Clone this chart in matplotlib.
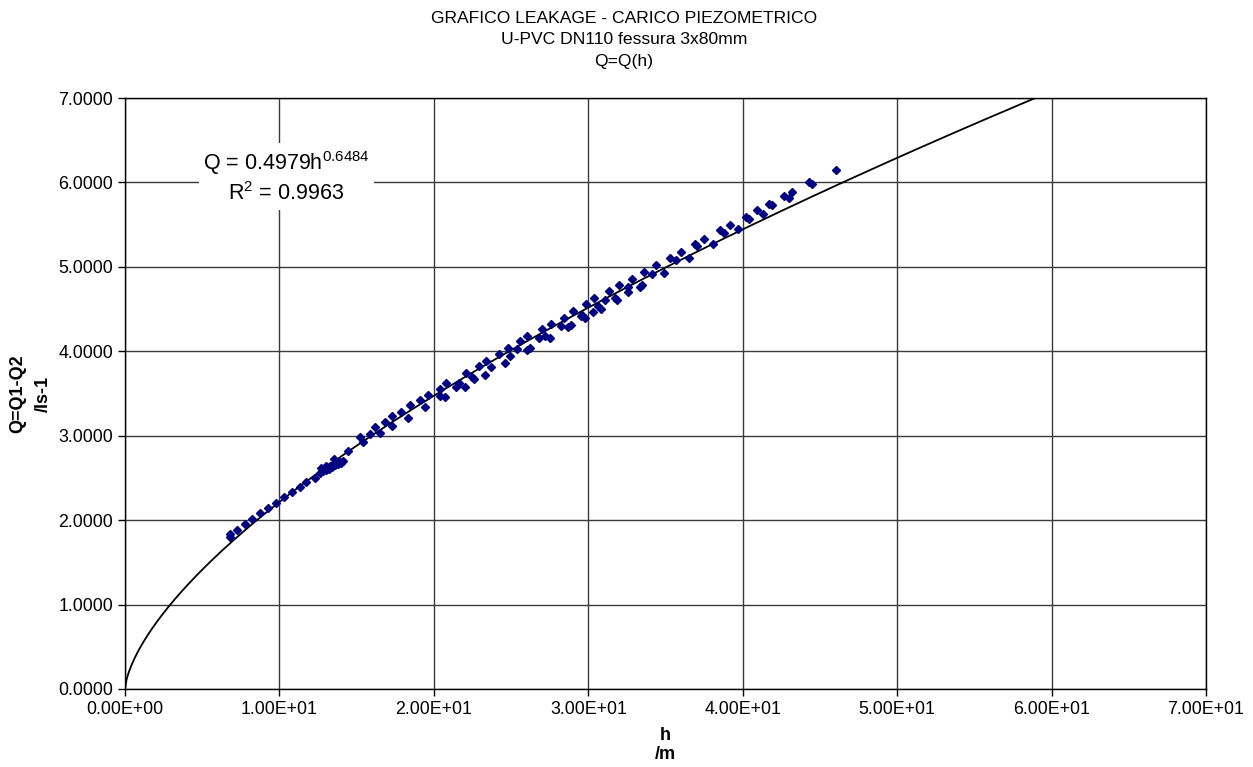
import numpy as np
import matplotlib
matplotlib.use("Agg")
import matplotlib.pyplot as plt
from matplotlib.ticker import FuncFormatter, MultipleLocator

h_vals = [6.80, 6.80, 7.27, 7.77, 8.25, 8.74, 9.28, 9.78, 10.32, 10.80,
          11.33, 11.72, 12.31, 12.6, 12.7, 12.8, 12.9, 13.0, 13.0, 13.1,
          13.2, 13.3, 13.4, 13.5, 13.5, 13.6, 13.7, 13.8, 13.9, 14.0,
          14.1, 14.46, 15.22, 15.44, 15.87, 16.19, 16.50, 16.84, 17.27, 17.31,
          17.90, 18.35, 18.46, 19.10, 19.40, 19.65, 20.40, 20.40, 20.70, 20.80,
          21.40, 21.60, 22.00, 22.10, 22.45, 22.60, 22.95, 23.30, 23.40, 23.70,
          24.20, 24.60, 24.80, 24.90, 25.37, 25.60, 26.00, 26.00, 26.20, 26.80,
          27.00, 27.20, 27.50, 27.60, 28.20, 28.40, 28.70, 28.90, 29.00, 29.50,
          29.60, 29.80, 29.86, 30.30, 30.40, 30.60, 30.80, 31.10, 31.35, 31.70,
          31.85, 32.00, 32.55, 32.60, 32.86, 33.35, 33.46, 33.60, 34.10, 34.40,
          34.90, 35.30, 35.70, 36.00, 36.50, 36.90, 37.07, 37.50, 38.10, 38.50,
          38.80, 39.20, 39.70, 40.20, 40.40, 40.95, 41.30, 41.70, 41.90, 42.70,
          43.00, 43.20, 44.30, 44.50, 46.05]
q_vals = [1.80, 1.83, 1.88, 1.95, 2.01, 2.08, 2.14, 2.20, 2.27, 2.33,
          2.39, 2.45, 2.50, 2.56, 2.62, 2.58, 2.60, 2.59, 2.64, 2.62,
          2.61, 2.64, 2.63, 2.66, 2.73, 2.65, 2.68, 2.67, 2.69, 2.68,
          2.70, 2.82, 2.99, 2.92, 3.02, 3.10, 3.03, 3.16, 3.11, 3.23,
          3.28, 3.21, 3.36, 3.42, 3.34, 3.48, 3.55, 3.47, 3.46, 3.62,
          3.58, 3.62, 3.58, 3.74, 3.69, 3.67, 3.83, 3.72, 3.89, 3.81,
          3.97, 3.86, 4.04, 3.94, 4.03, 4.12, 4.01, 4.18, 4.04, 4.16,
          4.26, 4.18, 4.16, 4.32, 4.30, 4.40, 4.29, 4.31, 4.48, 4.42,
          4.43, 4.40, 4.56, 4.46, 4.63, 4.54, 4.50, 4.61, 4.71, 4.63,
          4.61, 4.78, 4.76, 4.70, 4.86, 4.76, 4.79, 4.94, 4.92, 5.02,
          4.93, 5.11, 5.08, 5.18, 5.10, 5.27, 5.25, 5.33, 5.27, 5.44,
          5.40, 5.50, 5.45, 5.59, 5.57, 5.67, 5.63, 5.74, 5.73, 5.84,
          5.81, 5.89, 6.00, 5.98, 6.15]

# power trendline from the chart label
coef_a = 0.4979
coef_b = 0.6484
r_squared = 0.9963

plt.rcParams["font.family"] = ["Liberation Sans", "DejaVu Sans"]
plt.rcParams["mathtext.default"] = "regular"

fig = plt.figure(figsize=(12.53, 7.67), dpi=100)
ax = fig.add_axes([0.0998, 0.1017, 0.8627, 0.7705])

h_fit = np.linspace(0, 70, 800)
ax.plot(h_fit, coef_a * h_fit ** coef_b, color="black", lw=1.3, zorder=3)
ax.plot(h_vals, q_vals, linestyle="none", marker="D", markersize=3.8,
        color="#000080", zorder=4)

ax.set_xlim(0, 70)
ax.set_ylim(0, 7)
ax.xaxis.set_major_locator(MultipleLocator(10))
ax.yaxis.set_major_locator(MultipleLocator(1))
ax.xaxis.set_major_formatter(FuncFormatter(lambda v, p: f"{v:.2E}"))
ax.yaxis.set_major_formatter(FuncFormatter(lambda v, p: f"{v:.4f}"))
ax.tick_params(labelsize=12.8, length=5, width=1, color="black")
ax.grid(True, color="#3a3a3a", lw=1)
ax.set_axisbelow(True)
for s in ax.spines.values():
    s.set_color("black")
    s.set_linewidth(1)

ax.set_xlabel("h\n/m", fontsize=13, fontweight="bold", linespacing=1.2)
ax.xaxis.set_label_coords(0.5, -0.064)
ax.set_ylabel("Q=Q1-Q2\n/ls-1", fontsize=13, fontweight="bold", linespacing=1.6)
ax.yaxis.set_label_coords(-0.068, 0.5)

fig.text(0.498, 0.986, "GRAFICO LEAKAGE - CARICO PIEZOMETRICO\nU-PVC DN110 fessura 3x80mm\nQ=Q(h)",
         ha="center", va="top", fontsize=12.6, linespacing=1.54)

ax.text(10.43, 6.06, f"Q = {coef_a}h$^{{{coef_b}}}$\nR$^{{2}}$ = {r_squared}",
        ha="center", va="center", fontsize=15.5, linespacing=1.3,
        bbox=dict(facecolor="white", edgecolor="none", pad=3), zorder=5)

fig.savefig("out.png", dpi=100)
